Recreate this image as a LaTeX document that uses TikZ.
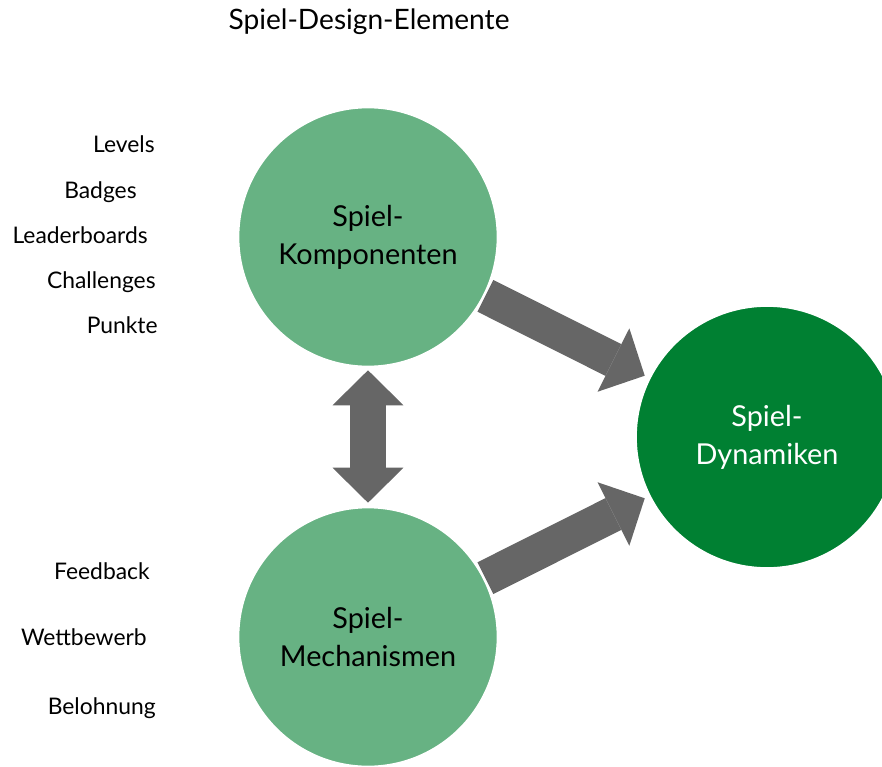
\documentclass[tikz,border=0pt]{standalone}
\usepackage{fontspec}
\setmainfont{Lato}
\usetikzlibrary{arrows.meta}
\definecolor{hellgruen}{RGB}{103,178,131}
\definecolor{dunkelgruen}{RGB}{0,128,50}
\definecolor{pfeilgrau}{RGB}{102,102,102}

\begin{document}
\begin{tikzpicture}[x=0.02cm, y=-0.02cm,
  kreis/.style={circle, minimum size=5.2cm, inner sep=0pt, draw=white, line width=1.5pt,
    align=center, font=\fontsize{16.4}{21.5}\selectfont},
  begriff/.style={anchor=base east, inner sep=0pt, font=\fontsize{13}{15}\selectfont},
  dickpfeil/.style={pfeilgrau, line width=0.71cm,
    -{Triangle[length=0.7cm, width=1.42cm, line width=0pt]}}]
  \useasboundingbox (0,0) rectangle (882,767);

  % Title
  \node[font=\fontsize{16}{19}\selectfont] (titel) at (369,22) {Spiel-Design-Elemente};

  % Circles
  \node[kreis, fill=hellgruen] (komp) at (368,237) {Spiel-\\Komponenten};
  \node[kreis, fill=hellgruen] (mech) at (368,637) {Spiel-\\Mechanismen};
  \node[kreis, fill=dunkelgruen, text=white, minimum size=5.26cm] (dyn) at (767,437) {Spiel-\\Dynamiken};

  % Arrows
  \draw[dickpfeil, shorten >=0.08cm] (komp) -- (dyn);
  \draw[dickpfeil, shorten >=0.08cm] (mech) -- (dyn);
  \draw[dickpfeil, {Triangle[length=0.7cm, width=1.42cm, line width=0pt]}-{Triangle[length=0.7cm, width=1.42cm, line width=0pt]},
    shorten <=0.04cm, shorten >=0.06cm] (komp) -- (mech);

  % Components
  \node[begriff] (levels) at (155,153) {Levels};
  \node[begriff] (badges) at (137,198) {Badges};
  \node[begriff] (leader) at (148,243) {Leaderboards};
  \node[begriff] (chall) at (156,288) {Challenges};
  \node[begriff] (punkte) at (158,333) {Punkte};

  % Mechanics
  \node[begriff] (feedback) at (150,579) {Feedback};
  \node[begriff] (wett) at (147,645) {Wettbewerb};
  \node[begriff] (belohn) at (156,714) {Belohnung};
\end{tikzpicture}
\end{document}
